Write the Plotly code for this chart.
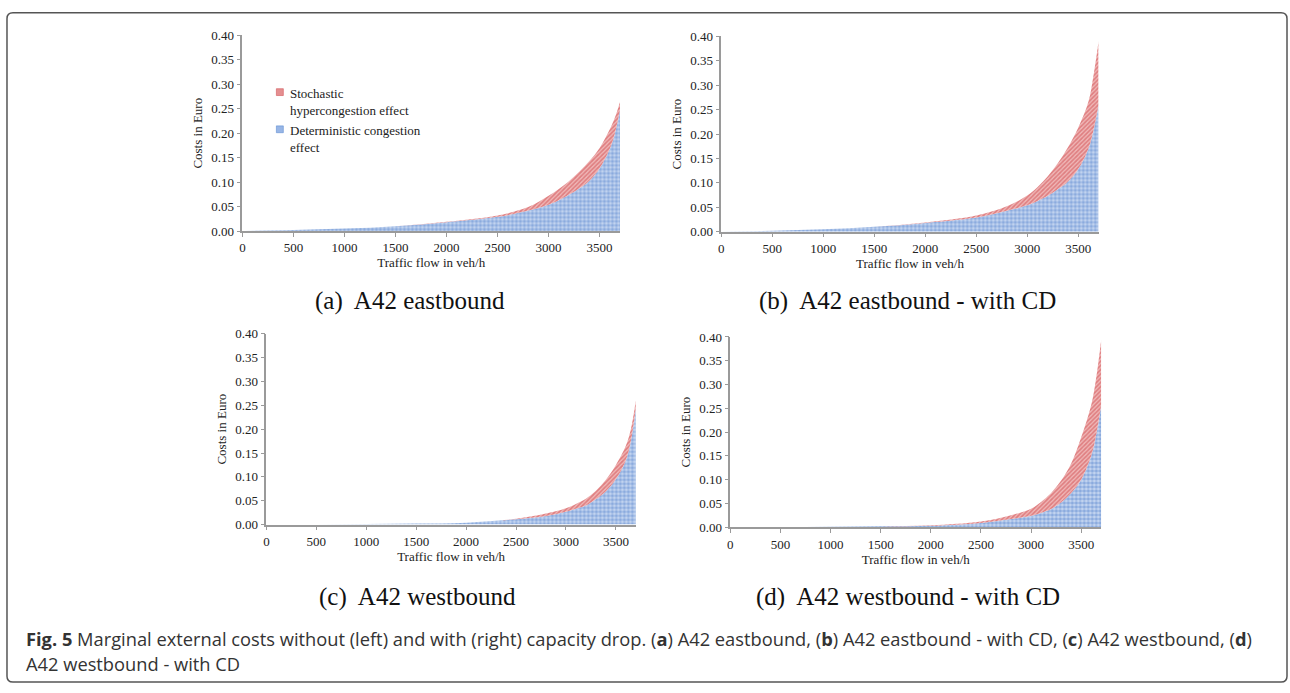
import plotly.graph_objects as go

# ---------------- data ----------------
flow = [0, 500, 1000, 1500, 2000, 2500, 2800, 3000, 3100, 3200, 3300, 3400, 3500, 3600, 3650, 3700]

# (a) A42 eastbound
det_a = [0.0, 0.002, 0.005, 0.010, 0.018, 0.029, 0.042, 0.054, 0.063, 0.074, 0.087, 0.103, 0.128, 0.168, 0.200, 0.248]
tot_a = [0.0, 0.002, 0.005, 0.010, 0.019, 0.032, 0.049, 0.072, 0.086, 0.102, 0.121, 0.143, 0.170, 0.208, 0.232, 0.264]
# (b) A42 eastbound - with CD
det_b = [0.0, 0.002, 0.005, 0.010, 0.018, 0.029, 0.043, 0.054, 0.063, 0.073, 0.087, 0.103, 0.128, 0.170, 0.208, 0.260]
tot_b = [0.0, 0.002, 0.005, 0.010, 0.019, 0.033, 0.052, 0.074, 0.091, 0.113, 0.140, 0.173, 0.213, 0.266, 0.320, 0.390]
# (c) A42 westbound
det_c = [0.0, 0.0, 0.001, 0.002, 0.004, 0.011, 0.018, 0.027, 0.033, 0.040, 0.053, 0.070, 0.095, 0.135, 0.175, 0.244]
tot_c = [0.0, 0.0, 0.001, 0.002, 0.004, 0.012, 0.023, 0.034, 0.043, 0.054, 0.071, 0.094, 0.125, 0.165, 0.200, 0.260]
# (d) A42 westbound - with CD
det_d = [0.0, 0.0, 0.001, 0.002, 0.003, 0.009, 0.017, 0.024, 0.030, 0.038, 0.052, 0.072, 0.100, 0.150, 0.195, 0.257]
tot_d = [0.0, 0.0, 0.001, 0.002, 0.004, 0.012, 0.025, 0.039, 0.053, 0.072, 0.098, 0.134, 0.189, 0.257, 0.315, 0.395]

y_ticks = [0.0, 0.05, 0.10, 0.15, 0.20, 0.25, 0.30, 0.35, 0.40]
x_ticks = [0, 500, 1000, 1500, 2000, 2500, 3000, 3500]

subcaptions = ["(a)  A42 eastbound", "(b)  A42 eastbound - with CD",
               "(c)  A42 westbound", "(d)  A42 westbound - with CD"]
legend_lines = [["Stochastic", "hypercongestion effect"], ["Deterministic congestion", "effect"]]
x_title = "Traffic flow in veh/h"
y_title = "Costs in Euro"

# ---------------- layout geometry (pixels) ----------------
W, H = 1290, 693
XMAX = 3700
# left px, px per unit x, top px, bottom px
panels = [
    (240, 358 / 3500, 29, 229),
    (720, 357.7 / 3500, 30, 229.7),
    (264, 350.3 / 3500, 334, 529),
    (729, 351.7 / 3500, 337.3, 531.7),
]

RED = "#cf4448"
BLUE = "#4f80cc"
SERIF = "Liberation Serif"

fig = go.Figure()
series = [(det_a, tot_a), (det_b, tot_b), (det_c, tot_c), (det_d, tot_d)]

for i, ((det, tot), (lx, kx, top, bot)) in enumerate(zip(series, panels)):
    n = "" if i == 0 else str(i + 1)
    xa, ya = "x" + n, "y" + n
    fig.add_trace(go.Scatter(
        x=flow, y=det, xaxis=xa, yaxis=ya, mode="lines",
        line=dict(width=0, shape="spline", smoothing=1.0, color=BLUE),
        fill="tozeroy", fillcolor="rgba(0,0,0,0)",
        fillpattern=dict(shape=".", fgcolor=BLUE, bgcolor="#c6d7f0", size=4, solidity=0.6),
        showlegend=False, hoverinfo="skip"))
    fig.add_trace(go.Scatter(
        x=flow, y=tot, xaxis=xa, yaxis=ya, mode="lines",
        line=dict(width=0, shape="spline", smoothing=1.0, color=RED),
        fill="tonexty", fillcolor="rgba(0,0,0,0)",
        fillpattern=dict(shape="/", fgcolor=RED, bgcolor="#efb8b8", size=3, solidity=0.55),
        showlegend=False, hoverinfo="skip"))
    right = lx + XMAX * kx
    ax_common = dict(showgrid=False, zeroline=False, showline=True, linecolor="#9a9a9a",
                     linewidth=1.5, ticks="outside", tickcolor="#9a9a9a", ticklen=4,
                     tickfont=dict(family=SERIF, size=13, color="#222"))
    fig.layout["xaxis" + n] = dict(
        domain=[lx / W, right / W], range=[0, XMAX], anchor=ya,
        tickvals=x_ticks, ticktext=[str(v) for v in x_ticks],
        title=dict(text=x_title, font=dict(family=SERIF, size=13, color="#222"), standoff=4),
        **ax_common)
    fig.layout["yaxis" + n] = dict(
        domain=[1 - bot / H, 1 - top / H], range=[0, 0.40], anchor=xa,
        tickvals=y_ticks, tickformat=".2f",
        title=dict(text=y_title, font=dict(family=SERIF, size=13, color="#222"), standoff=6),
        **ax_common)

# legend (drawn in panel a)
leg_items = [(RED, "#e48f90", 87, legend_lines[0]), (BLUE, "#98b6e6", 125, legend_lines[1])]
for edge, fillc, cy, lines in leg_items:
    fig.add_shape(type="rect", xref="paper", yref="paper",
                  x0=274 / W, x1=281 / W, y0=1 - (cy + 3.5) / H, y1=1 - (cy - 3.5) / H,
                  fillcolor=fillc, line=dict(color=edge, width=0.5))
    fig.add_annotation(text="<br>".join(lines), x=286 / W, y=1 - (cy - 8) / H,
                       xref="paper", yref="paper", showarrow=False,
                       xanchor="left", yanchor="top", align="left",
                       font=dict(family=SERIF, size=13, color="#222"))

# subcaptions
sub_pos = [(408, 301), (907, 301), (415, 603), (907, 603)]
for txt, (cx, cy) in zip(subcaptions, sub_pos):
    fig.add_annotation(text=txt, x=cx / W, y=1 - cy / H, xref="paper", yref="paper",
                       showarrow=False, xanchor="center", yanchor="middle",
                       font=dict(family=SERIF, size=25, color="#111"))

# figure caption
cap1 = ("<b>Fig. 5</b> Marginal external costs without (left) and with (right) capacity drop. "
        "(<b>a</b>) A42 eastbound, (<b>b</b>) A42 eastbound - with CD, (<b>c</b>) A42 westbound, (<b>d</b>)")
cap2 = "A42 westbound - with CD"
for txt, cy in [(cap1, 645), (cap2, 671)]:
    fig.add_annotation(text=txt, x=21 / W, y=1 - cy / H, xref="paper", yref="paper",
                       showarrow=False, xanchor="left", yanchor="middle",
                       font=dict(family="Open Sans", size=18.3, color="#333"))

# rounded border
x0, y0, x1, y1, r = 4, 6, 1287, 690, 6
def P(x, y):
    return f"{x / W:.6f},{1 - y / H:.6f}"
path = (f"M {P(x0 + r, y0)} L {P(x1 - r, y0)} Q {P(x1, y0)} {P(x1, y0 + r)} "
        f"L {P(x1, y1 - r)} Q {P(x1, y1)} {P(x1 - r, y1)} L {P(x0 + r, y1)} "
        f"Q {P(x0, y1)} {P(x0, y1 - r)} L {P(x0, y0 + r)} Q {P(x0, y0)} {P(x0 + r, y0)} Z")
fig.add_shape(type="path", path=path, xref="paper", yref="paper",
              line=dict(color="#555555", width=1.5))

fig.update_layout(
    width=W, height=H, margin=dict(l=0, r=0, t=0, b=0),
    paper_bgcolor="white", plot_bgcolor="white",
    showlegend=False,
)

fig.write_html(
    "out.html",
    config={"displayModeBar": False},
    post_script=(
        "document.documentElement.style.overflow='hidden';"
        "document.body.style.margin='0px';document.body.style.overflow='hidden';"
        "var gd=document.getElementById('{plot_id}');"
        "gd.style.position='fixed';gd.style.left='0px';gd.style.top='0px';"
    ),
)
